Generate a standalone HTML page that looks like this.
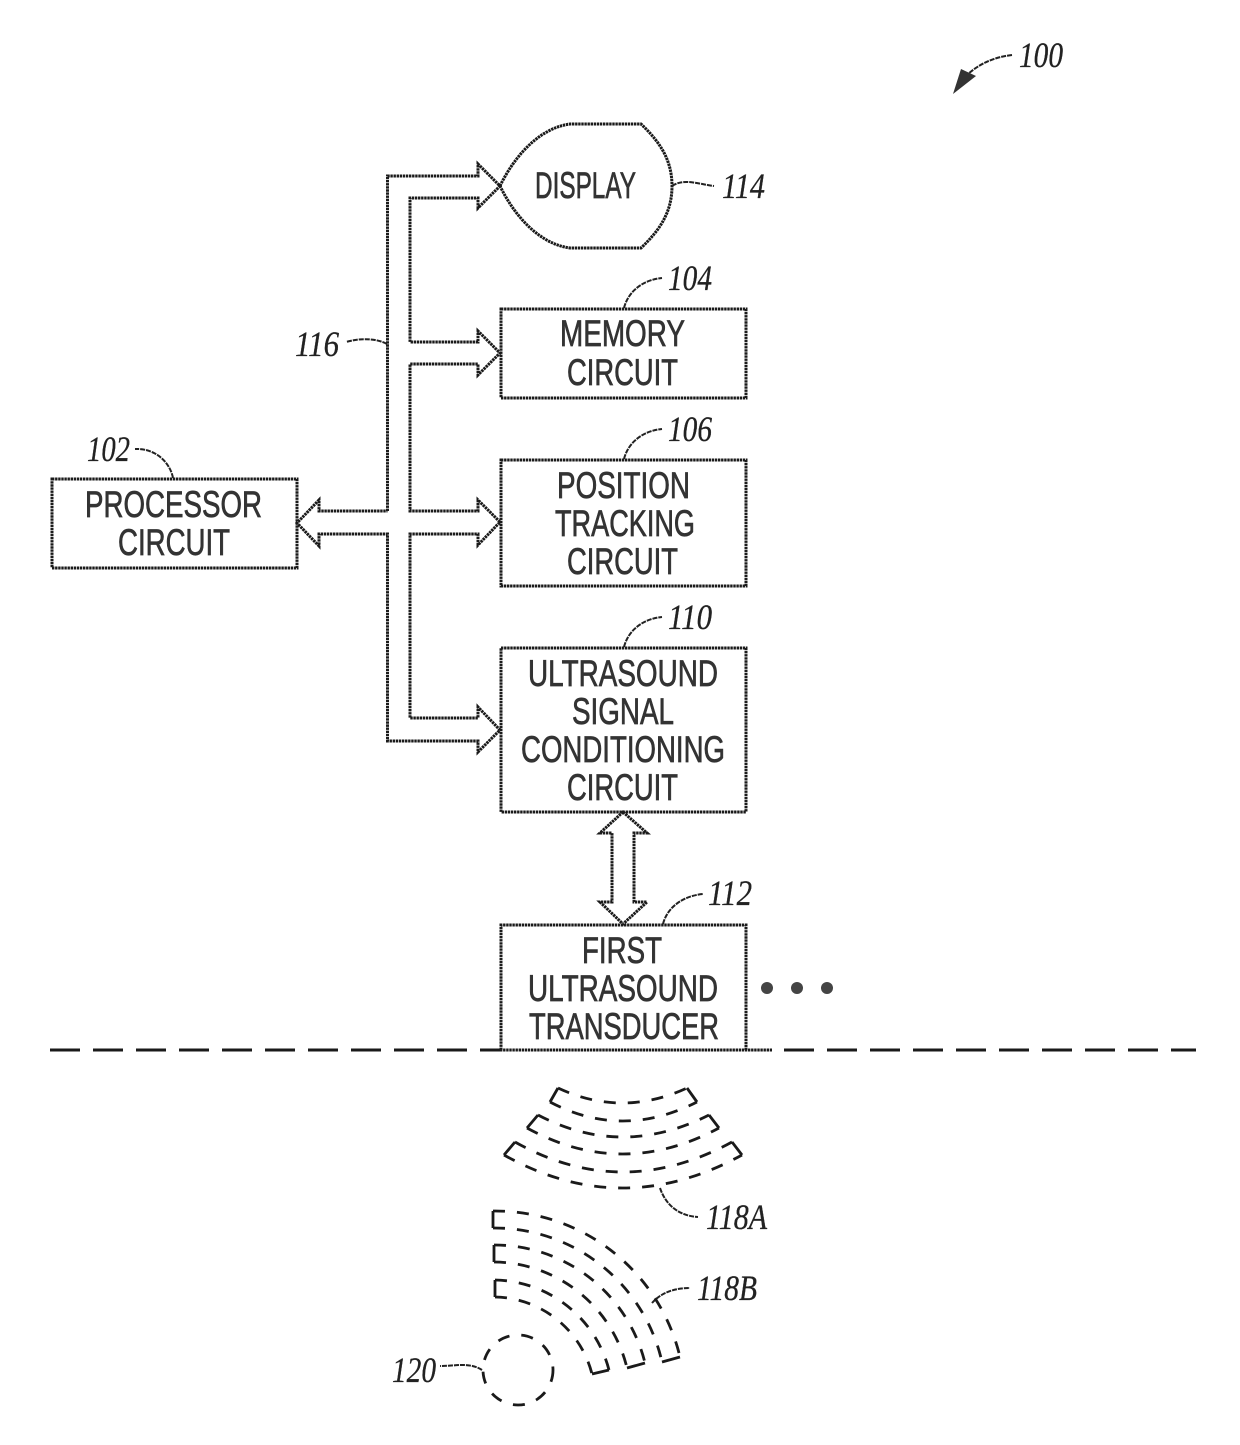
<!DOCTYPE html>
<html><head><meta charset="utf-8"><style>
html,body{margin:0;padding:0;background:#fff}
svg{display:block}
.l{fill:none;stroke:#1a1a1a;stroke-width:3;stroke-dasharray:2.4 .7}
.t{font-family:"Liberation Sans",sans-serif;font-size:37px;fill:#333;stroke:#333;stroke-width:.7}
.n{font-family:"Liberation Serif",serif;font-style:italic;font-size:36px;fill:#222;stroke:#222;stroke-width:.3}
.s{fill:none;stroke:#222;stroke-width:2;stroke-dasharray:5 1}
.a{fill:none;stroke:#1a1a1a;stroke-width:2.800;stroke-dasharray:12 12}
.c{fill:none;stroke:#1a1a1a;stroke-width:2.800}
</style></head><body>
<svg width="1240" height="1445" viewBox="0 0 1240 1445" xmlns="http://www.w3.org/2000/svg">
<rect class="l" x="52" y="479" width="245" height="89"/>
<rect class="l" x="501" y="309" width="245" height="89"/>
<rect class="l" x="501" y="460" width="245" height="126"/>
<rect class="l" x="501" y="648" width="245" height="164"/>
<path class="l" d="M501 1050V925H746V1050"/>
<path class="l" d="M500 186C515 155 540 128 570 124H641C660 142 672 160 672 186C672 212 660 230 641 248H570C540 244 515 217 500 186Z"/>
<path class="l" d="M387.500 511V176H478V164L500 186L478 208V198H410V342H478V331L500 353L478 375V364H410V511H478V500L500 522L478 545V534H410V718H478V707L500 730L478 752V741H387.500V534H319V546L297 523L319 500V511H387.500"/>
<path class="l" d="M623 812L647 833H634V902H647L623 924L600 902H612V833H600Z"/>
<path d="M50 1050H500" fill="none" stroke="#1a1a1a" stroke-width="3" stroke-dasharray="30 13"/>
<path d="M500 1050H772" fill="none" stroke="#1a1a1a" stroke-width="3" stroke-dasharray="2.400 .7"/>
<path d="M784 1050H1196" fill="none" stroke="#1a1a1a" stroke-width="3" stroke-dasharray="30 13"/>
<g fill="#444"><circle cx="767" cy="988" r="6"/><circle cx="797" cy="988" r="6"/><circle cx="827" cy="988" r="6"/></g>
<text class="t" x="535" y="198" textLength="101" lengthAdjust="spacingAndGlyphs">DISPLAY</text>
<text class="t" x="560" y="346" textLength="125" lengthAdjust="spacingAndGlyphs">MEMORY</text>
<text class="t" x="567" y="385" textLength="111" lengthAdjust="spacingAndGlyphs">CIRCUIT</text>
<text class="t" x="85" y="517" textLength="177" lengthAdjust="spacingAndGlyphs">PROCESSOR</text>
<text class="t" x="118" y="555" textLength="112" lengthAdjust="spacingAndGlyphs">CIRCUIT</text>
<text class="t" x="557" y="498" textLength="133" lengthAdjust="spacingAndGlyphs">POSITION</text>
<text class="t" x="555" y="536" textLength="140" lengthAdjust="spacingAndGlyphs">TRACKING</text>
<text class="t" x="567" y="574" textLength="111" lengthAdjust="spacingAndGlyphs">CIRCUIT</text>
<text class="t" x="528" y="686" textLength="190" lengthAdjust="spacingAndGlyphs">ULTRASOUND</text>
<text class="t" x="572" y="724" textLength="102" lengthAdjust="spacingAndGlyphs">SIGNAL</text>
<text class="t" x="521" y="762" textLength="204" lengthAdjust="spacingAndGlyphs">CONDITIONING</text>
<text class="t" x="567" y="800" textLength="111" lengthAdjust="spacingAndGlyphs">CIRCUIT</text>
<text class="t" x="582" y="963" textLength="80" lengthAdjust="spacingAndGlyphs">FIRST</text>
<text class="t" x="528" y="1001" textLength="190" lengthAdjust="spacingAndGlyphs">ULTRASOUND</text>
<text class="t" x="529" y="1039" textLength="190" lengthAdjust="spacingAndGlyphs">TRANSDUCER</text>
<text class="n" x="1019" y="67" textLength="44" lengthAdjust="spacingAndGlyphs">100</text>
<text class="n" x="722" y="198" textLength="43" lengthAdjust="spacingAndGlyphs">114</text>
<text class="n" x="668" y="290" textLength="44" lengthAdjust="spacingAndGlyphs">104</text>
<text class="n" x="668" y="441" textLength="44" lengthAdjust="spacingAndGlyphs">106</text>
<text class="n" x="668" y="629" textLength="44" lengthAdjust="spacingAndGlyphs">110</text>
<text class="n" x="708" y="905" textLength="44" lengthAdjust="spacingAndGlyphs">112</text>
<text class="n" x="87" y="461" textLength="43" lengthAdjust="spacingAndGlyphs">102</text>
<text class="n" x="295" y="356" textLength="44" lengthAdjust="spacingAndGlyphs">116</text>
<text class="n" x="706" y="1229" textLength="61" lengthAdjust="spacingAndGlyphs">118A</text>
<text class="n" x="697" y="1300" textLength="60" lengthAdjust="spacingAndGlyphs">118B</text>
<text class="n" x="392" y="1382" textLength="44" lengthAdjust="spacingAndGlyphs">120</text>
<path class="s" d="M672 186C684 178 698 184 714 186"/>
<path class="s" d="M624 308C628 292 642 280 662 278"/>
<path class="s" d="M624 459C628 443 642 431 662 429"/>
<path class="s" d="M624 647C628 631 642 619 662 617"/>
<path class="s" d="M663 924C667 908 682 896 703 894"/>
<path class="s" d="M173 478C170 462 155 448 135 449"/>
<path class="s" d="M387 344C376 338 360 338 346 342"/>
<path class="s" d="M660 1188C666 1206 680 1216 698 1217"/>
<path class="s" d="M652 1303C660 1294 672 1288 690 1288"/>
<path class="s" d="M482 1370C470 1362 455 1366 440 1366"/>
<path class="s" d="M1012 55C995 57 980 63 967 75"/>
<path d="M953 94L961 69L976 76Z" fill="#333"/>
<path class="a" d="M558 1088Q622 1118 687 1088"/>
<path class="a" d="M550 1102Q622 1140 697 1102"/>
<path class="a" d="M538 1115Q622 1159 709 1115"/>
<path class="a" d="M527 1128Q622 1180 719 1128"/>
<path class="a" d="M515 1142Q622 1202 732 1142"/>
<path class="a" d="M504 1155Q622 1221 742 1155"/>
<path class="c" d="M550 1102L558 1088M687 1088L697 1102M527 1128L538 1115M709 1115L719 1128M504 1155L515 1142M732 1142L742 1155"/>
<path class="a" d="M493 1211A190 190 0 0 1 680 1357"/>
<path class="a" d="M493 1228A172 172 0 0 1 662 1362"/>
<path class="a" d="M494 1245A155 155 0 0 1 645 1363"/>
<path class="a" d="M494 1262A138 138 0 0 1 627 1368"/>
<path class="a" d="M495 1280A120 120 0 0 1 609 1370"/>
<path class="a" d="M495 1297A102 102 0 0 1 592 1374"/>
<path class="c" d="M493 1211V1228M494 1245V1262M495 1280V1297M680 1357L662 1362M645 1363L627 1368M609 1370L592 1374"/>
<circle class="a" cx="518" cy="1370" r="35"/>
</svg>
</body></html>
